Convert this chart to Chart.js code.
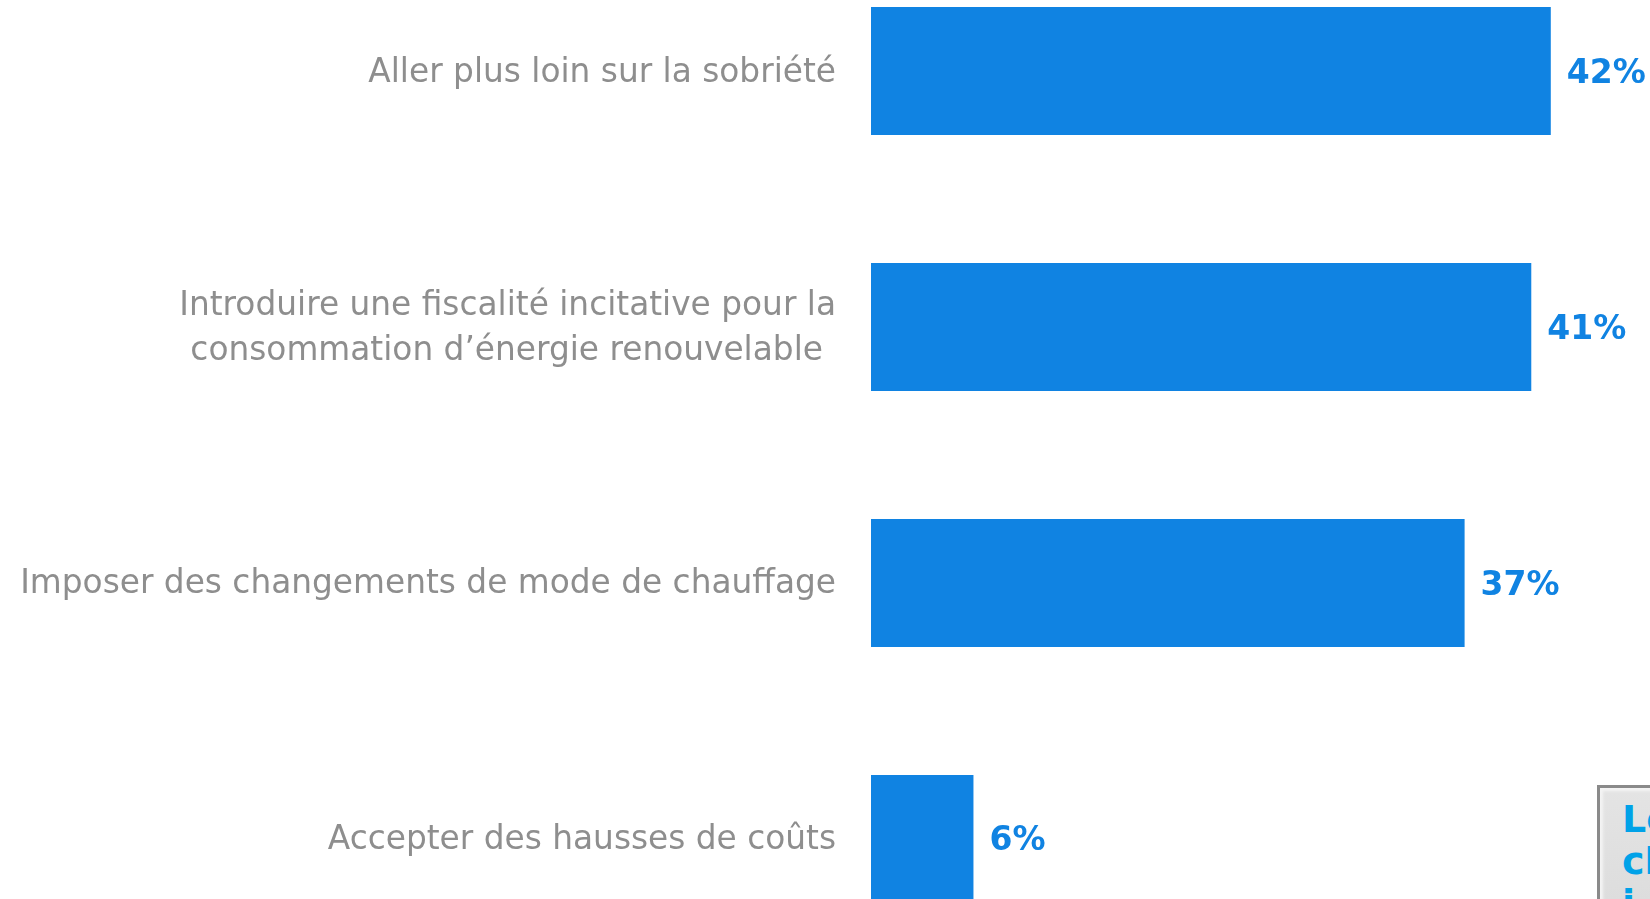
<!DOCTYPE html>
<html lang="fr">
<head>
<meta charset="utf-8">
<title>Leviers énergétiques</title>
<script src="https://cdn.jsdelivr.net/npm/chart.js@4/dist/chart.umd.min.js"></script>
<style>
    html, body {
        margin: 0;
        padding: 0;
        background: #ffffff;
        overflow: hidden;
    }
    #page {
        position: relative;
        width: 1650px;
        height: 899px;
        overflow: hidden;
    }
    /* the plot is taller than the window: top and bottom slots are cut.
       Chart.js keeps ~57px above/below the plot for the tick labels */
    #chart {
        position: absolute;
        left: 0;
        top: -114px;
    }
    #note {
        position: absolute;
        left: 1597px;
        top: 785px;
        width: 220px;
        height: 200px;
        box-sizing: border-box;
        padding: 10px 0 0 22px;
        background: linear-gradient(#e4e4e4, #d8d8d8);
        border: 3px solid #8a8a8a;
        border-right-color: #b0b0b0;
        border-bottom-color: #b0b0b0;
        box-shadow: inset 3px 3px 3px #f4f4f4, inset -2px -2px 3px #9c9c9c;
        font-family: "DejaVu Sans", sans-serif;
        font-weight: bold;
        font-size: 38px;
        line-height: 42px;
        color: #00a2e8;
    }
</style>
</head>
<body>
<div id="page">
    <canvas id="chart" width="1650" height="1138"></canvas>
    <div id="note">Le<br>ch<br>i</div>
</div>

<script>
// Data
const categories = [
    'Aller plus loin sur la sobriété',
    ['Introduire une fiscalité incitative pour la', 'consommation d’énergie renouvelable'],
    'Imposer des changements de mode de chauffage',
    'Accepter des hausses de coûts'
];
const values = [41.8, 40.6, 36.5, 6.3];

const barColor = '#1083e2';
const labelFont = '32.8px "DejaVu Sans"';

// Draw the "42%" style labels just after each bar end
const valueLabels = {
    id: 'valueLabels',
    afterDatasetsDraw(chart) {
        const ctx = chart.ctx;
        const meta = chart.getDatasetMeta(0);
        ctx.save();
        ctx.font = 'bold 33px "DejaVu Sans"';
        ctx.fillStyle = barColor;
        ctx.textAlign = 'left';
        ctx.textBaseline = 'middle';
        meta.data.forEach((bar, i) => {
            ctx.fillText(Math.round(values[i]) + '%', bar.x + 16, bar.y + 3);
        });
        ctx.restore();
    }
};

const ctx = document.getElementById('chart').getContext('2d');

new Chart(ctx, {
    type: 'bar',
    data: {
        labels: categories,
        datasets: [{
            data: values,
            backgroundColor: barColor,
            borderWidth: 0,
            barPercentage: 0.5,
            categoryPercentage: 1
        }]
    },
    options: {
        indexAxis: 'y',
        responsive: false,
        animation: false,
        devicePixelRatio: 1,
        layout: { padding: 0 },
        plugins: {
            legend: { display: false },
            tooltip: { enabled: false }
        },
        scales: {
            x: {
                display: false,
                min: 0,
                max: 47.9
            },
            y: {
                grid: { display: false, drawTicks: false },
                border: { display: false },
                afterFit(scale) {
                    scale.width = 871;
                },
                ticks: {
                    autoSkip: false,
                    padding: 35,
                    labelOffset: 2,
                    color: '#8e8e8e',
                    font: { family: '"DejaVu Sans"', size: 32.8, lineHeight: 1.35 },
                    // centre the lines of a two-line label on each other
                    callback: function (value) {
                        const lines = this.getLabelForValue(value);
                        if (!Array.isArray(lines)) return lines;
                        const c = this.ctx;
                        c.save();
                        c.font = labelFont;
                        const widths = lines.map(l => c.measureText(l).width);
                        const hair = c.measureText('\u200A').width || 3;
                        c.restore();
                        const widest = Math.max(...widths);
                        return lines.map((l, i) =>
                            l + '\u200A'.repeat(Math.round((widest - widths[i]) / 2 / hair)));
                    }
                }
            }
        }
    },
    plugins: [valueLabels]
});
</script>
</body>
</html>
